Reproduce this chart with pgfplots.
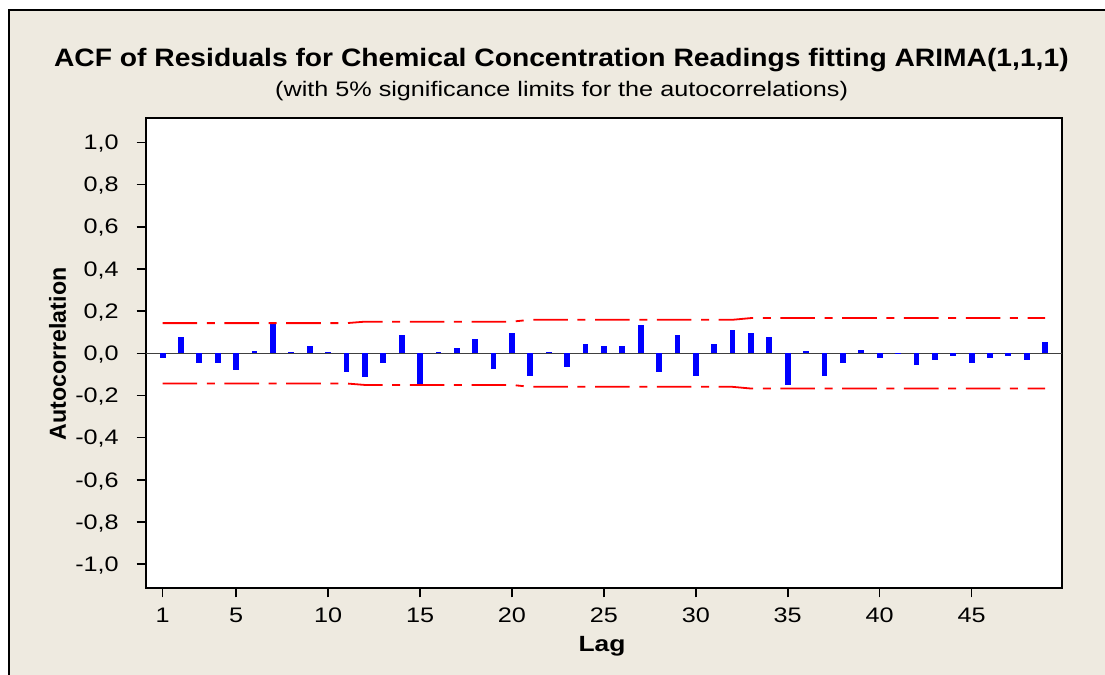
\documentclass[border=0pt]{standalone}
\usepackage{pgfplots}
\pgfplotsset{compat=1.18}
\usepackage{fontspec}
\setmainfont{Liberation Sans}[FakeStretch=1.2]
\newfontfamily\titlefam{Liberation Sans}[FakeStretch=1.12]
\newfontfamily\plainfam{Liberation Sans}

\definecolor{panel}{RGB}{238,234,224}
\definecolor{acfblue}{RGB}{0,0,255}
\definecolor{limred}{RGB}{255,0,0}

% residual autocorrelations by lag
\pgfplotstableread{
lag acf
1  -0.021
2   0.076
3  -0.047
4  -0.047
5  -0.081
6   0.011
7   0.142
8   0.005
9   0.035
10  0.004
11 -0.088
12 -0.114
13 -0.047
14  0.085
15 -0.155
16  0.005
17  0.027
18  0.068
19 -0.073
20  0.095
21 -0.106
22  0.004
23 -0.063
24  0.044
25  0.035
26  0.035
27  0.136
28 -0.088
29  0.087
30 -0.106
31  0.044
32  0.111
33  0.096
34  0.077
35 -0.148
36  0.013
37 -0.106
38 -0.047
39  0.017
40 -0.021
41  0.003
42 -0.055
43 -0.030
44 -0.014
45 -0.047
46 -0.022
47 -0.014
48 -0.030
49  0.054
}\acftable

% 5% significance limits, upper and lower
\pgfplotstableread{
lag up lo
1  0.143 -0.143
11 0.143 -0.143
12 0.150 -0.150
20 0.150 -0.150
21 0.159 -0.159
32 0.159 -0.159
33 0.167 -0.167
49 0.167 -0.167
}\limtable

\begin{document}
\begin{tikzpicture}
\useasboundingbox (0,0) rectangle (552.5pt,-337.5pt);
\fill[white] (0,0) rectangle (552.5pt,-337.5pt);
\fill[panel] (4.5pt,-5pt) rectangle (553pt,-338pt);
\draw[black, line width=0.65pt] (4.5pt,-338pt) -- (4.5pt,-5pt) -- (553pt,-5pt);

\begin{axis}[
  at={(72.85pt,-294.15pt)}, anchor=south west,
  width=458pt, height=235pt, scale only axis,
  xmin=0.08, xmax=49.9, ymin=-1.114, ymax=1.114,
  axis background/.style={fill=white},
  axis line style={black, line width=1pt},
  xtick={1,5,10,15,20,25,30,35,40,45},
  xticklabels={1,5,10,15,20,25,30,35,40,45},
  ytick={-1,-0.8,-0.6,-0.4,-0.2,0,0.2,0.4,0.6,0.8,1},
  yticklabels={{-1,0},{-0,8},{-0,6},{-0,4},{-0,2},{0,0},{0,2},{0,4},{0,6},{0,8},{1,0}},
  tick align=outside, xtick pos=left, ytick pos=left,
  major tick length=4.5pt,
  tick style={black, line width=0.8pt},
  ticklabel style={font=\fontsize{10.5}{12}\selectfont, text=black, inner sep=0pt},
  xticklabel style={anchor=base, yshift=-12.5pt},
  yticklabel style={anchor=east, xshift=-8.8pt, yshift=-0.6pt},
  clip=false,
]
\addplot[black!75, line width=0.6pt] coordinates {(0.08,0) (49.9,0)};
\addplot[ycomb, acfblue, line width=2.9pt, mark=none] table[x=lag, y=acf] {\acftable};
\addplot[limred, line width=0.9pt, dash pattern=on 17.3pt off 4.8pt on 4pt off 4.8pt]
  table[x=lag, y=up] {\limtable};
\addplot[limred, line width=0.9pt, dash pattern=on 17.3pt off 4.8pt on 4pt off 4.8pt]
  table[x=lag, y=lo] {\limtable};
\end{axis}

\node[anchor=base, inner sep=0pt, font=\titlefam\fontsize{12.6}{15}\bfseries]
  at (280.7pt,-33.35pt) {ACF of Residuals for Chemical Concentration Readings fitting ARIMA(1,1,1)};
\node[anchor=base, inner sep=0pt, font=\fontsize{10.5}{12}\selectfont]
  at (280.8pt,-48.4pt) {(with 5\% significance limits for the autocorrelations)};
\node[anchor=base, inner sep=0pt, font=\fontsize{11}{13}\selectfont\bfseries]
  at (301pt,-325.75pt) {Lag};
\node[rotate=90, inner sep=0pt, font=\plainfam\fontsize{11.6}{14}\selectfont\bfseries]
  at (28.75pt,-177pt) {Autocorrelation};
\end{tikzpicture}
\end{document}
